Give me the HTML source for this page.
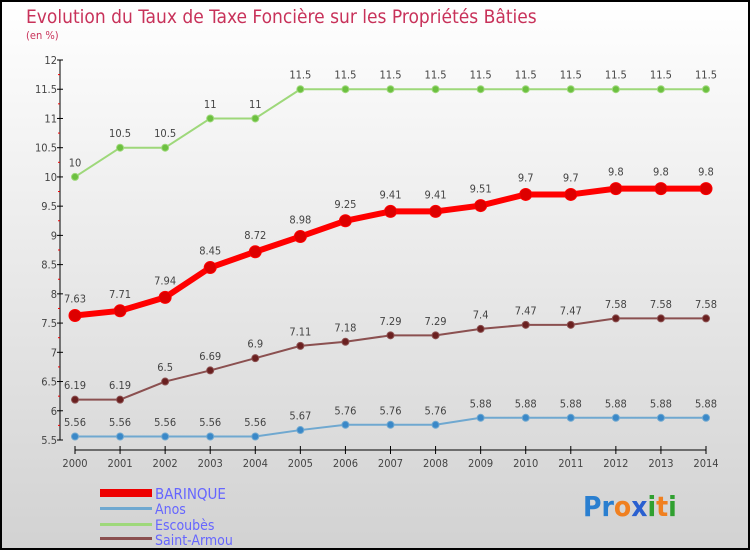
<!DOCTYPE html>
<html><head><meta charset="utf-8"><style>
body{margin:0;width:750px;height:550px;overflow:hidden}
svg{display:block;font-family:"DejaVu Sans Condensed","Liberation Sans",sans-serif}
</style></head><body>
<svg id="c" width="750" height="550">
<defs><linearGradient id="bg" x1="0" y1="0" x2="0" y2="1"><stop offset="0" stop-color="#ffffff"/><stop offset="1" stop-color="#d2d2d2"/></linearGradient></defs>
<rect x="1" y="1" width="748" height="548" fill="url(#bg)" stroke="#000" stroke-width="2"/>
<text x="26" y="23" font-size="19" fill="#c8325a">Evolution du Taux de Taxe Foncière sur les Propriétés Bâties</text>
<text x="26" y="39" font-size="11" fill="#c8325a">(en %)</text>
<g id="axes"></g><g id="series"></g>
<g>
<rect x="100" y="489" width="52" height="8" fill="#e00"/>
<text x="155" y="499" font-size="15" fill="#6666ff">BARINQUE</text>
<rect x="100" y="507" width="52" height="3" fill="#6fa8d0"/>
<text x="155" y="514" font-size="14" fill="#6666ff">Anos</text>
<rect x="100" y="523" width="52" height="3" fill="#9ed87a"/>
<text x="155" y="530" font-size="14" fill="#6666ff">Escoubès</text>
<rect x="100" y="537" width="52" height="3" fill="#8b5050"/>
<text x="155" y="545" font-size="14" fill="#6666ff">Saint-Armou</text>
</g>
<text x="583" y="516" font-size="28" font-weight="bold"><tspan fill="#2a7fd0">Pr</tspan><tspan fill="#f08020">o</tspan><tspan fill="#2a60d0">x</tspan><tspan fill="#30a030">i</tspan><tspan fill="#f08020">t</tspan><tspan fill="#30a030">i</tspan></text>
</svg>
<script>
const years=[2000,2001,2002,2003,2004,2005,2006,2007,2008,2009,2010,2011,2012,2013,2014];
const barinque=[7.63,7.71,7.94,8.45,8.72,8.98,9.25,9.41,9.41,9.51,9.7,9.7,9.8,9.8,9.8];
const anos=[5.56,5.56,5.56,5.56,5.56,5.67,5.76,5.76,5.76,5.88,5.88,5.88,5.88,5.88,5.88];
const escoubes=[10,10.5,10.5,11,11,11.5,11.5,11.5,11.5,11.5,11.5,11.5,11.5,11.5,11.5];
const saintArmou=[6.19,6.19,6.5,6.69,6.9,7.11,7.18,7.29,7.29,7.4,7.47,7.47,7.58,7.58,7.58];
const yTicks=[5.5,6,6.5,7,7.5,8,8.5,9,9.5,10,10.5,11,11.5,12];
const NS='http://www.w3.org/2000/svg';
const x=i=>75+i*(631/14);
const y=v=>440-(v-5.5)*(380/6.5);
function mk(t,a,p){const e=document.createElementNS(NS,t);for(const k in a)e.setAttribute(k,a[k]);p.appendChild(e);return e;}
const ax=document.getElementById('axes');
let l=mk('line',{x1:60,y1:60,x2:60,y2:440,stroke:'#000'},ax);

l=mk('line',{x1:75,y1:450,x2:706,y2:450,stroke:'#000'},ax);

yTicks.forEach((v,i)=>{mk('line',{x1:57,x2:63,y1:y(v),y2:y(v),stroke:'#000'},ax);
 if(i<yTicks.length-1)mk('line',{x1:58,x2:60,y1:y(v+0.25),y2:y(v+0.25),stroke:'#e00'},ax);
 const t=mk('text',{x:57,y:y(v)+4,'font-size':11,fill:'#444','text-anchor':'end'},ax);t.textContent=v;
 });
years.forEach((yr,i)=>{mk('line',{x1:x(i),x2:x(i),y1:446,y2:454,stroke:'#000'},ax);
 const t=mk('text',{x:x(i),y:467,'font-size':11,fill:'#444','text-anchor':'middle'},ax);t.textContent=yr;
 });
const sg=document.getElementById('series');
function draw(name,vals,col,dot,w,r,fs){
 const g=mk('g',{},sg);
 const pl=mk('polyline',{points:vals.map((v,i)=>x(i)+','+y(v)).join(' '),fill:'none',stroke:col,'stroke-width':w,'stroke-linejoin':'round'},g);
 
 vals.forEach((v,i)=>{const c=mk('circle',{cx:x(i),cy:y(v),r:r,fill:dot,stroke:col,'stroke-width':1},g);
  
  const t=mk('text',{x:x(i),y:y(v)-r-7,'font-size':fs,fill:'#444','text-anchor':'middle'},g);t.textContent=v;
  });
}
draw('escoubes',escoubes,'#9ed87a','#6cc040',2,3.5,11);
draw('anos',anos,'#6fa8d0','#3a88c8',2,3.5,11);
draw('saint-armou',saintArmou,'#8b5050','#6a2020',2,3.5,11);
draw('barinque',barinque,'#ff0000','#dd0000',6,6,11);
</script>
</body></html>
